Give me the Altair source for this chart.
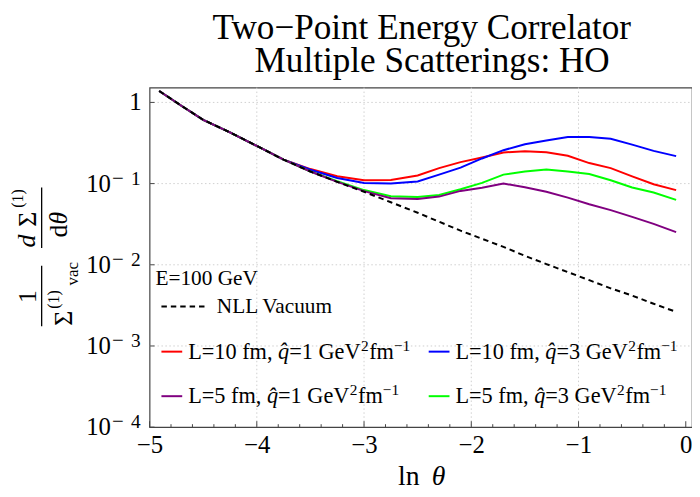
import altair as alt
import pandas as pd

# ---------------- data ----------------
LN_COMMON = [-4.91, -4.7, -4.5, -4.25, -4.0, -3.75]
VAL_COMMON = [1.384, 0.904, 0.611, 0.427, 0.291, 0.197]
LN_TAIL = [-3.5, -3.25, -3.0, -2.75, -2.5, -2.3, -2.1, -1.9, -1.7, -1.5,
           -1.3, -1.1, -0.9, -0.7, -0.5, -0.3, -0.09]
NLL_VAC = [0.141, 0.105, 0.0794, 0.0589, 0.0437, 0.0339, 0.0263, 0.0209, 0.0166,
           0.0129, 0.0102, 0.00813, 0.00646, 0.00513, 0.00417, 0.00331, 0.00263]
RED_L10_Q1 = [0.151, 0.123, 0.110, 0.111, 0.126, 0.155, 0.184, 0.210, 0.242,
              0.251, 0.243, 0.220, 0.179, 0.155, 0.123, 0.0982, 0.0832]
BLUE_L10_Q3 = [0.148, 0.117, 0.102, 0.100, 0.106, 0.129, 0.157, 0.204, 0.258,
               0.305, 0.339, 0.374, 0.374, 0.356, 0.302, 0.253, 0.218]
GREEN_L5_Q3 = [0.141, 0.107, 0.0832, 0.0700, 0.0684, 0.0724, 0.0851, 0.102, 0.129,
               0.141, 0.149, 0.141, 0.131, 0.110, 0.0897, 0.0776, 0.0631]
PURPLE_L5_Q1 = [0.141, 0.105, 0.0807, 0.0661, 0.0646, 0.0692, 0.0813, 0.0891, 0.100,
                0.0904, 0.0794, 0.0671, 0.0557, 0.0471, 0.0389, 0.0319, 0.0253]

X_MAJOR = [-5, -4, -3, -2, -1, 0]
X_MINOR = [-4.8, -4.6, -4.4, -4.2, -3.8, -3.6, -3.4, -3.2, -2.8, -2.6, -2.4, -2.2,
           -1.8, -1.6, -1.4, -1.2, -0.8, -0.6, -0.4, -0.2]
X_GRID = [-4, -3, -2, -1]
Y_GRID = [1, 0.1, 0.01, 0.001]
Y_MAJOR = [1, 0.1, 0.01, 0.001, 0.0001]
Y_POW_VALUES = [0.1, 0.01, 0.001, 0.0001]
Y_POW_EXP = ["1", "2", "3", "4"]

# ---------------- layout ----------------
W, H = 548, 343
PL, PT = 151, 86          # page position of plot origin
SERIF = "Liberation Serif"

x_scale = alt.Scale(domain=[-5, 0.058], nice=False, zero=False)
y_scale = alt.Scale(type="log", domain=[1e-4, 1.52], nice=False)
x_axis = alt.Axis(values=X_MAJOR, ticks=False, domain=False, grid=False,
                  labelExpr="datum.value < 0 ? '\u2212' + abs(datum.value) : '0'",
                  labelFont=SERIF, labelFontSize=25, labelColor="black",
                  labelPadding=6, labelFlush=False, labelOverlap=False, title=None)


def X(field="v"):
    return alt.X(f"{field}:Q", scale=x_scale, axis=x_axis)


def Y(field="v"):
    return alt.Y(f"{field}:Q", scale=y_scale, axis=None)


def one():
    return alt.Data(values=[{"a": 1}])


def T(px, py, s, size, italic=False, angle=0, align="left", baseline="alphabetic"):
    return alt.Chart(one()).mark_text(
        text=s, font=SERIF, fontSize=size, fontStyle="italic" if italic else "normal",
        angle=angle, align=align, baseline=baseline, color="black"
    ).encode(x=alt.value(px - PL), y=alt.value(py - PT))


def HR(x1, x2, py, color, dash=None, width=2):
    kw = dict(color=color, strokeWidth=width)
    if dash:
        kw["strokeDash"] = dash
    return alt.Chart(one()).mark_rule(**kw).encode(
        x=alt.value(x1 - PL), x2=alt.value(x2 - PL), y=alt.value(py - PT))


def VR(px, y1, y2, color="black", width=1.3):
    return alt.Chart(one()).mark_rule(color=color, strokeWidth=width).encode(
        x=alt.value(px - PL), y=alt.value(y1 - PT), y2=alt.value(y2 - PT))


layers = []

# grid lines
layers.append(alt.Chart(pd.DataFrame({"v": X_GRID})).mark_rule(
    color="#cfcfcf", strokeDash=[1.5, 2.5], strokeWidth=1).encode(
    x=X(), y=alt.value(0), y2=alt.value(H)))
layers.append(alt.Chart(pd.DataFrame({"v": Y_GRID})).mark_rule(
    color="#cfcfcf", strokeDash=[1.5, 2.5], strokeWidth=1).encode(
    y=Y(), x=alt.value(0), x2=alt.value(W)))

# ticks (inward)
layers.append(alt.Chart(pd.DataFrame({"v": X_MAJOR})).mark_rule(
    color="#444", strokeWidth=1).encode(x=X(), y=alt.value(H), y2=alt.value(H - 6)))
layers.append(alt.Chart(pd.DataFrame({"v": X_MINOR})).mark_rule(
    color="#444", strokeWidth=1).encode(x=X(), y=alt.value(H), y2=alt.value(H - 3)))
layers.append(alt.Chart(pd.DataFrame({"v": Y_MAJOR})).mark_rule(
    color="#444", strokeWidth=1).encode(y=Y(), x=alt.value(0), x2=alt.value(5)))


def series(vals):
    return pd.DataFrame({"lnt": LN_COMMON + LN_TAIL, "val": VAL_COMMON + vals})


for vals, col in [(RED_L10_Q1, "#ff0000"), (BLUE_L10_Q3, "#0000ff"),
                  (GREEN_L5_Q3, "#00ff00"), (PURPLE_L5_Q1, "#800080")]:
    layers.append(alt.Chart(series(vals)).mark_line(color=col, strokeWidth=2).encode(
        x=X("lnt"), y=Y("val"), order="lnt:Q"))
layers.append(alt.Chart(series(NLL_VAC)).mark_line(
    color="black", strokeWidth=2, strokeDash=[5.5, 4]).encode(
    x=X("lnt"), y=Y("val"), order="lnt:Q"))

# y tick labels (10 with superscript exponent)
ydf = pd.DataFrame({"v": Y_POW_VALUES, "e": Y_POW_EXP})
layers.append(alt.Chart(ydf).mark_text(
    text="10", font=SERIF, fontSize=25, align="right", baseline="middle", color="black"
).encode(y=Y(), x=alt.value(112 - PL)))
layers.append(alt.Chart(ydf).mark_text(
    text="\u2212", font=SERIF, fontSize=21, align="left", baseline="middle", dy=-5, color="black"
).encode(y=Y(), x=alt.value(113 - PL)))
layers.append(alt.Chart(ydf).mark_text(
    font=SERIF, fontSize=19.5, align="right", baseline="middle", dy=-5, color="black"
).encode(y=Y(), x=alt.value(142 - PL), text="e:N"))
layers.append(alt.Chart(pd.DataFrame({"v": [1]})).mark_text(
    text="1", font=SERIF, fontSize=25, align="right", baseline="middle", color="black"
).encode(y=Y(), x=alt.value(143 - PL)))

# title
layers.append(T(426, 37, "Two\u2212Point Energy Correlator", 35.5, align="center"))
layers.append(T(436.5, 70, "Multiple Scatterings: HO", 35.5, align="center"))

# x title
layers.append(T(402, 487, "ln", 28))
layers.append(T(436, 487, "\u03b8", 28, italic=True))

# y title (rotated fraction pieces)
R = 270
layers.append(T(28.5, 297, "1", 26, angle=R, align="center", baseline="middle"))
layers.append(VR(42, 266, 327))
layers.append(T(65, 319, "\u03a3", 26, angle=R, align="center", baseline="middle"))
layers.append(T(55, 300, "(1)", 16, angle=R, align="center", baseline="middle"))
layers.append(T(74, 274, "vac", 17, angle=R, align="center", baseline="middle"))
layers.append(T(27, 241, "d", 26, italic=True, angle=R, align="center", baseline="middle"))
layers.append(T(28, 219, "\u03a3", 26, angle=R, align="center", baseline="middle"))
layers.append(T(18, 198, "(1)", 16, angle=R, align="center", baseline="middle"))
layers.append(VR(42, 187, 248))
layers.append(T(60, 231, "d", 26, angle=R, align="center", baseline="middle"))
layers.append(T(60, 218, "\u03b8", 26, italic=True, angle=R, align="center", baseline="middle"))

# legend
layers.append(T(157, 285, "E=100 GeV", 21.5))
layers.append(HR(163, 208, 307, "black", dash=[5.5, 4]))
layers.append(T(219, 314, "NLL Vacuum", 21.5))

TW = {'L': 611, '=': 564, '0': 500, '1': 500, '2': 500, '3': 500, '5': 500, ' ': 250,
      'f': 333, 'm': 778, ',': 250, 'q': 500, 'G': 722, 'e': 444, 'V': 722, '\u2212': 564}


def tw(s, size):
    return sum(TW[c] for c in s) * size / 1000.0


def entry(x0, yb, L, q, color):
    s, ss = 22.5, 15.5
    out = [HR(x0 - 27, x0 - 6, yb - 7.3, color)]
    a = f"L={L} fm, "
    out.append(T(x0, yb, a, s))
    x1 = x0 + tw(a, s)
    out.append(T(x1, yb, "q\u0302", s, italic=True))
    x2 = x1 + tw("q", s)
    b = f"={q} GeV"
    out.append(T(x2, yb, b, s))
    x3 = x2 + tw(b, s)
    out.append(T(x3 + 0.5, yb - 8, "2", ss))
    x4 = x3 + tw("2", ss) + 1
    out.append(T(x4, yb, "fm", s))
    x5 = x4 + tw("fm", s)
    out.append(T(x5, yb - 8, "\u22121", ss))
    return out


layers += entry(190, 360, "10", "1", "#ff0000")
layers += entry(460, 360, "10", "3", "#0000ff")
layers += entry(190, 405, "5", "1", "#800080")
layers += entry(460, 405, "5", "3", "#00ff00")

chart = alt.layer(*layers).properties(
    width=W, height=H,
    padding={"left": 143, "top": 78, "right": 0, "bottom": 60},
    autosize=alt.AutoSizeParams(type="none"),
    background="white",
).configure_view(stroke="#444", strokeWidth=1.2)

chart.save("out.html", embed_options={"renderer": "svg", "actions": False})
